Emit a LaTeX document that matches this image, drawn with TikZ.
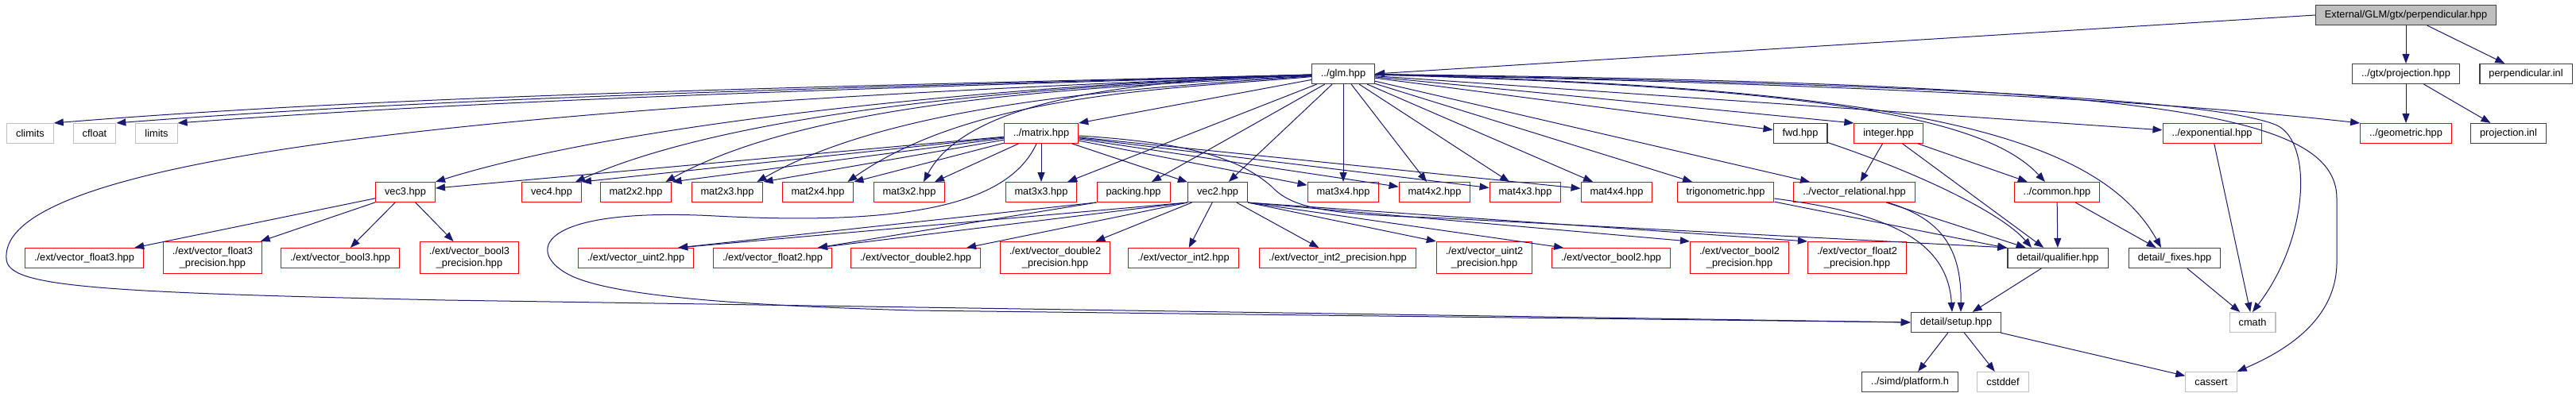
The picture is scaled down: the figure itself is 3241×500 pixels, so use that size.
\documentclass[tikz,border=0pt]{standalone}
\usepackage{fontspec}
\setmainfont{Liberation Sans}
\usepackage{xcolor}
\usepackage{tikz}
\usetikzlibrary{arrows.meta}
\definecolor{edgeblue}{HTML}{191970}
\definecolor{truncred}{HTML}{FF0000}
\definecolor{sysgrey}{HTML}{BFBFBF}
\definecolor{docgrey}{HTML}{404040}

\begin{document}
\begin{tikzpicture}[
  x=1pt, y=1pt,
  every node/.style={font=\fontsize{12.8}{14.5}\selectfont, inner xsep=11.5pt, inner ysep=1pt, minimum height=25pt, align=center},
  trunc/.style={draw=truncred, line width=1pt},
  file/.style={draw=docgrey, line width=1.2pt},
  sys/.style={draw=sysgrey, line width=1.1pt},
  root/.style={draw=docgrey, fill=sysgrey, line width=1.2pt},
  twoline/.style={minimum height=40pt},
  incl/.style={draw=edgeblue, line width=1pt, -{Triangle[length=12pt, width=9pt]}}
]
\fill[white] (0,0) rectangle (3241,-500);
\useasboundingbox (0,0) rectangle (3241,-500);

\node[root] (root) at (3027,-19) {External/GLM/gtx/perpendicular.hpp};
\node[file] (glm) at (1690,-93) {../glm.hpp};
\node[file] (proj) at (3027,-93) {../gtx/projection.hpp};
\node[file] (perpinl) at (3178,-93) {perpendicular.inl};

\node[sys] (climits) at (38,-168) {climits};
\node[sys] (cfloat) at (119,-168) {cfloat};
\node[sys] (limits) at (197,-168) {limits};
\node[trunc] (matrix) at (1310,-168) {../matrix.hpp};
\node[file] (fwd) at (2265,-168) {fwd.hpp};
\node[trunc] (integer) at (2376,-168) {integer.hpp};
\node[trunc] (expo) at (2783,-168) {../exponential.hpp};
\node[trunc] (geom) at (3027,-168) {../geometric.hpp};
\node[file] (projinl) at (3156,-168) {projection.inl};

\node[trunc] (vec3) at (510,-242) {vec3.hpp};
\node[trunc] (vec4) at (694,-242) {vec4.hpp};
\node[trunc] (mat2x2) at (800,-242) {mat2x2.hpp};
\node[trunc] (mat2x3) at (915,-242) {mat2x3.hpp};
\node[trunc] (mat2x4) at (1029,-242) {mat2x4.hpp};
\node[trunc] (mat3x2) at (1144,-242) {mat3x2.hpp};
\node[trunc] (mat3x3) at (1310,-242) {mat3x3.hpp};
\node[trunc] (packing) at (1426,-242) {packing.hpp};
\node[file] (vec2) at (1532,-242) {vec2.hpp};
\node[trunc] (mat3x4) at (1690,-242) {mat3x4.hpp};
\node[trunc] (mat4x2) at (1805,-242) {mat4x2.hpp};
\node[trunc] (mat4x3) at (1919,-242) {mat4x3.hpp};
\node[trunc] (mat4x4) at (2034,-242) {mat4x4.hpp};
\node[trunc] (trig) at (2171,-242) {trigonometric.hpp};
\node[trunc] (vrel) at (2333,-242) {../vector\_relational.hpp};
\node[trunc] (common) at (2588,-242) {../common.hpp};

\node[trunc] (vfloat3) at (106,-325) {./ext/vector\_float3.hpp};
\node[trunc, twoline] (vfloat3p) at (267.5,-324.5) {./ext/vector\_float3\\\_precision.hpp};
\node[trunc] (vbool3) at (428,-325) {./ext/vector\_bool3.hpp};
\node[trunc, twoline] (vbool3p) at (590.5,-324.5) {./ext/vector\_bool3\\\_precision.hpp};
\node[trunc] (vuint2) at (800,-325) {./ext/vector\_uint2.hpp};
\node[trunc] (vfloat2) at (972,-325) {./ext/vector\_float2.hpp};
\node[trunc] (vdouble2) at (1152,-325) {./ext/vector\_double2.hpp};
\node[trunc, twoline] (vdouble2p) at (1327.5,-324.5) {./ext/vector\_double2\\\_precision.hpp};
\node[trunc] (vint2) at (1489,-325) {./ext/vector\_int2.hpp};
\node[trunc] (vint2p) at (1683,-325) {./ext/vector\_int2\_precision.hpp};
\node[trunc, twoline] (vuint2p) at (1867.5,-324.5) {./ext/vector\_uint2\\\_precision.hpp};
\node[trunc] (vbool2) at (2027,-325) {./ext/vector\_bool2.hpp};
\node[trunc, twoline] (vbool2p) at (2188.5,-324.5) {./ext/vector\_bool2\\\_precision.hpp};
\node[trunc, twoline] (vfloat2p) at (2336.5,-324.5) {./ext/vector\_float2\\\_precision.hpp};
\node[file] (qual) at (2589,-325) {detail/qualifier.hpp};
\node[file] (fixes) at (2736,-325) {detail/\_fixes.hpp};

\node[file] (setup) at (2461,-406) {detail/setup.hpp};
\node[sys] (cmath) at (2834,-406) {cmath};
\node[file] (platform) at (2403,-481) {../simd/platform.h};
\node[sys] (cstddef) at (2520,-481) {cstddef};
\node[sys] (cassert) at (2782,-481) {cassert};

\draw[incl] (root.west) -- (glm.east);
\draw[incl] (root) -- (proj);
\draw[incl] (root) -- (perpinl);
\draw[incl] (proj) -- (geom);
\draw[incl] (proj) -- (projinl);

\draw[incl] (glm) .. controls (1000,-110) and (500,-120) .. (climits.north east);
\draw[incl] (glm) .. controls (1000,-112) and (560,-123) .. (cfloat.north east);
\draw[incl] (glm) .. controls (1000,-114) and (620,-126) .. (limits.north east);
\draw[incl] (glm) .. controls (700,-130) and (0,-190) .. (8,-325) .. controls (8,-360) and (100,-368) .. (560,-378) -- (setup.west);
\draw[incl] (glm) .. controls (1300,-105) and (800,-150) .. (vec3.north east);
\draw[incl] (glm) .. controls (1400,-105) and (953,-128) .. ([xshift=-8pt]vec4.north east);
\draw[incl] (glm) .. controls (1430,-108) and (1038,-118) .. ([xshift=-8pt]mat2x2.north east);
\draw[incl] (glm) .. controls (1450,-110) and (1133,-126) .. ([xshift=-8pt]mat2x3.north east);
\draw[incl] (glm) .. controls (1480,-112) and (1227,-116) .. ([xshift=-8pt]mat2x4.north east);
\draw[incl] (glm) .. controls (1450,-100) and (1220,-120) .. ([xshift=18pt]mat3x2.north);
\draw[incl] (glm) -- (matrix.north east);
\draw[incl] (glm) -- (mat3x3);
\draw[incl] (glm) -- (packing);
\draw[incl] (glm) -- (vec2);
\draw[incl] (glm) -- (mat3x4);
\draw[incl] (glm) -- (mat4x2);
\draw[incl] (glm) -- (mat4x3);
\draw[incl] (glm) -- (mat4x4);
\draw[incl] (glm) -- (trig);
\draw[incl] (glm) -- (vrel);
\draw[incl] (glm) -- (fwd);
\draw[incl] (glm) -- (integer.north west);
\draw[incl] (glm) -- (expo);
\draw[incl] (glm) .. controls (2300,-110) and (2500,-150) .. ([xshift=-15pt]common.north);
\draw[incl] (glm) .. controls (2400,-110) and (2640,-170) .. ([xshift=-17pt]fixes.north);
\draw[incl] (glm) .. controls (2300,-105) and (2700,-125) .. (geom.north west);
\draw[incl] (glm) .. controls (2400,-105) and (2790,-125) .. (2865,-158) .. controls (2910,-180) and (2905,-300) .. (cmath.north);
\draw[incl] (glm) .. controls (2700,-105) and (2940,-140) .. (2940,-250) -- (2940,-330) .. controls (2940,-400) and (2880,-440) .. (cassert.north east);

\draw[incl] (matrix) -- ([yshift=5pt]vec3.east);
\draw[incl] (matrix) -- (vec4.north east);
\draw[incl] (matrix) -- (mat2x2.north east);
\draw[incl] (matrix) -- (mat2x3.north east);
\draw[incl] (matrix) -- (mat2x4.north east);
\draw[incl] (matrix) -- ([xshift=32pt]mat3x2.north);
\draw[incl] (matrix) -- (mat3x3);
\draw[incl] (matrix) -- (vec2);
\draw[incl] (matrix) -- (mat3x4);
\draw[incl] (matrix) -- (mat4x2);
\draw[incl] (matrix) -- (mat4x3);
\draw[incl] (matrix) -- (mat4x4);
\draw[incl] (matrix) .. controls (1500,-180) and (1560,-200) .. (1600,-235) .. controls (1625,-262) and (1670,-270) .. (1800,-274) -- (qual.north west);
\draw[incl] (matrix) .. controls (1270,-255) and (1150,-285) .. (900,-272) .. controls (670,-260) and (660,-320) .. (720,-348) .. controls (780,-375) and (950,-385) .. (1150,-391) -- (setup.west);

\draw[incl] (vec3) -- (vfloat3);
\draw[incl] (vec3) -- (vfloat3p);
\draw[incl] (vec3) -- (vbool3);
\draw[incl] (vec3) -- (vbool3p);

\draw[incl] (vec2.south west) -- ([xshift=-20pt]vuint2.north east);
\draw[incl] (vec2.south west) -- ([xshift=-18pt]vfloat2.north east);
\draw[incl] (vec2.south west) -- ([xshift=-18pt]vdouble2.north east);
\draw[incl] (vec2) -- (vdouble2p);
\draw[incl] (vec2) -- (vint2);
\draw[incl] (vec2) -- (vint2p);
\draw[incl] (vec2.south east) -- (vuint2p.north west);
\draw[incl] (vec2.south east) -- ([xshift=15pt]vbool2.north west);
\draw[incl] (vec2.south east) -- (vbool2p.north west);
\draw[incl] (vec2.south east) -- (vfloat2p.north west);
\draw[incl] (packing.south west) -- ([xshift=-20pt]vuint2.north east);
\draw[incl] (packing.south west) -- ([xshift=-18pt]vfloat2.north east);

\draw[incl] (trig) -- (qual);
\draw[incl] (trig) .. controls (2370,-268) and (2450,-300) .. ([xshift=-5pt]setup.north);
\draw[incl] (vrel) -- (qual);
\draw[incl] (vrel) .. controls (2440,-275) and (2468,-310) .. ([xshift=6pt]setup.north);
\draw[incl] (fwd) .. controls (2420,-220) and (2520,-270) .. ([xshift=-33pt]qual.north);
\draw[incl] (integer) -- (vrel);
\draw[incl] (integer) -- (qual);
\draw[incl] (integer) -- (common);
\draw[incl] (common) -- (qual);
\draw[incl] (common) -- (fixes);
\draw[incl] (qual) -- (setup);
\draw[incl] (expo) -- (cmath);
\draw[incl] (fixes) -- (cmath);
\draw[incl] (setup) -- (platform);
\draw[incl] (setup) -- (cstddef);
\draw[incl] (setup) -- (cassert);
\end{tikzpicture}
\end{document}
